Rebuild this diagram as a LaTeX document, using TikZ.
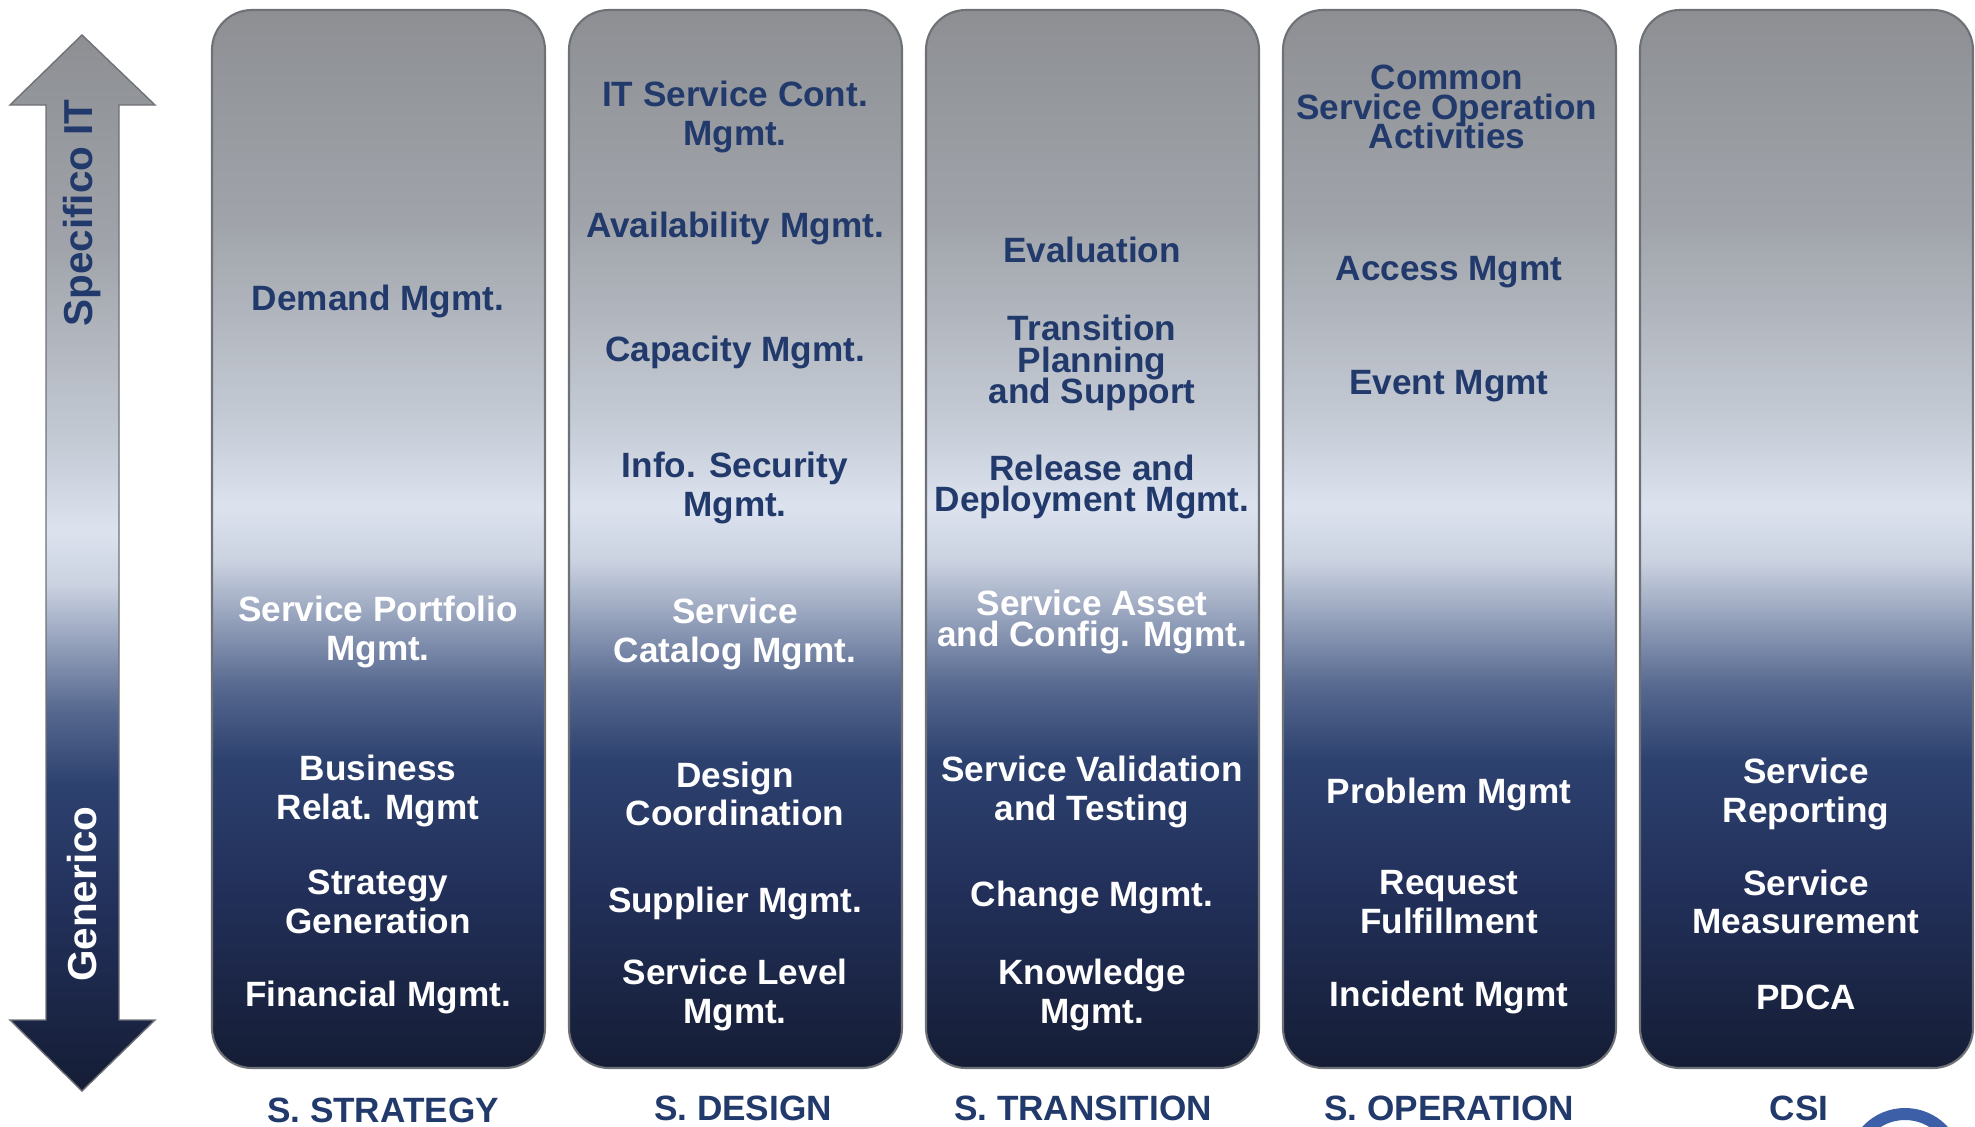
\documentclass[tikz,border=0pt]{standalone}
\usepackage{fontspec}
\setmainfont{Liberation Sans}
\definecolor{itemblue}{HTML}{213A6B}
\definecolor{edgegray}{HTML}{6E7176}
\definecolor{ringblue}{HTML}{3D5FA8}
\definecolor{sA}{HTML}{8D8F93}
\definecolor{sB}{HTML}{A0A4AA}
\definecolor{sC}{HTML}{C3C9D3}
\definecolor{sD}{HTML}{DCE2EE}
\definecolor{sE}{HTML}{CBD2E0}
\definecolor{sF}{HTML}{9AA6BF}
\definecolor{sG}{HTML}{56688F}
\definecolor{sH}{HTML}{2D416F}
\definecolor{sI}{HTML}{22305A}
\definecolor{sJ}{HTML}{151D35}
\pgfdeclareverticalshading{itil}{100bp}{color(0bp)=(sJ); color(25bp)=(sJ); color(33.5bp)=(sI);
 color(39.5bp)=(sH); color(43bp)=(sG); color(46.5bp)=(sF); color(49bp)=(sE); color(51.5bp)=(sD);
 color(56bp)=(sC); color(65bp)=(sB); color(75bp)=(sA); color(100bp)=(sA)}
\newcommand{\tightlines}{\lineskiplimit=-20pt\relax}

\tikzset{
 colbox/.style={shading=itil, rounded corners=0.4cm, draw=edgegray, line width=0.6pt},
 dk/.style={inner sep=0pt, align=center, text=itemblue, font=\bfseries\fontsize{10}{11}\selectfont},
 wt/.style={dk, text=white},
 tt/.style={font=\bfseries\fontsize{10}{9}\selectfont\tightlines},
 vt/.style={font=\bfseries\fontsize{10}{8.5}\selectfont\tightlines},
 axis label/.style={inner sep=0pt, rotate=90, font=\bfseries\fontsize{11.5}{13}\selectfont},
 phase/.style={inner sep=0pt, anchor=base, text=itemblue, font=\bfseries\fontsize{10}{12}\selectfont},
}

\begin{document}
\begin{tikzpicture}[x=0.01cm, y=-0.01cm]
\useasboundingbox (0,0) rectangle (1975,1127);
\clip (0,0) rectangle (1975,1127);

\shade[shading=itil, draw=edgegray, line width=0.4pt] (82,35) -- (155,105) -- (119,105) -- (119,1020) -- (155,1020)
 -- (82,1091) -- (10,1020) -- (46,1020) -- (46,105) -- (10,105) -- cycle;
\node[axis label, text=itemblue] (spec) at (82,213) {Specifico IT};
\node[axis label, text=white] (gen) at (82,894) {Generico};

\foreach \x in {212,569,926,1283,1640} {
 \shade[colbox] (\x,10) rectangle ++(333,1058);
 }

\node[dk] (dem) at (378,301) {Demand Mgmt.};
\node[wt] (port) at (378,632) {Service Portfolio\\Mgmt.};
\node[wt] (brm) at (378,791) {Business\\Relat. Mgmt};
\node[wt] (gen) at (378,902) {Strategy\\Generation};
\node[wt] (fin) at (378,997) {Financial Mgmt.};

\node[dk] (itscm) at (735,117) {IT Service Cont.\\Mgmt.};
\node[dk] (avail) at (735,228) {Availability Mgmt.};
\node[dk] (cap) at (735,352) {Capacity Mgmt.};
\node[dk] (ism) at (735,488) {Info. Security\\Mgmt.};
\node[wt] (cat) at (735,634) {Service\\Catalog Mgmt.};
\node[wt] (coord) at (735,794) {Design\\Coordination};
\node[wt] (supp) at (735,903) {Supplier Mgmt.};
\node[wt] (slm) at (735,995) {Service Level\\Mgmt.};

\node[dk] (eval) at (1092,250) {Evaluation};
\node[dk, tt] (tps) at (1092,363) {Transition\\Planning\\and Support};
\node[dk, tt] (rdm) at (1092,487) {Release and\\Deployment Mgmt.};
\node[wt, tt] (sacm) at (1092,622) {Service Asset\\and Config. Mgmt.};
\node[wt] (svt) at (1092,792) {Service Validation\\and Testing};
\node[wt] (chg) at (1092,897) {Change Mgmt.};
\node[wt] (know) at (1092,995) {Knowledge\\Mgmt.};

\node[dk, vt] (csoa) at (1447,107) {Common\\Service Operation\\Activities};
\node[dk] (acc) at (1449,272) {Access Mgmt};
\node[dk] (evt) at (1449,386) {Event Mgmt};
\node[wt] (prob) at (1449,794) {Problem Mgmt};
\node[wt] (req) at (1449,902) {Request\\Fulfillment};
\node[wt] (inc) at (1449,997) {Incident Mgmt};

\node[wt] (rep) at (1806,794) {Service\\Reporting};
\node[wt] (meas) at (1806,902) {Service\\Measurement};
\node[wt] (pdca) at (1806,997) {PDCA};

\node[phase] (ss) at (383,1122) {S. STRATEGY};
\node[phase] (sd) at (743,1120) {S. DESIGN};
\node[phase] (stn) at (1083,1120) {S. TRANSITION};
\node[phase] (so) at (1449,1120) {S. OPERATION};
\node[phase] (csi) at (1799,1120) {CSI};

\draw[ringblue, line width=0.12cm] (1905,1166) circle (52);
\end{tikzpicture}
\end{document}
